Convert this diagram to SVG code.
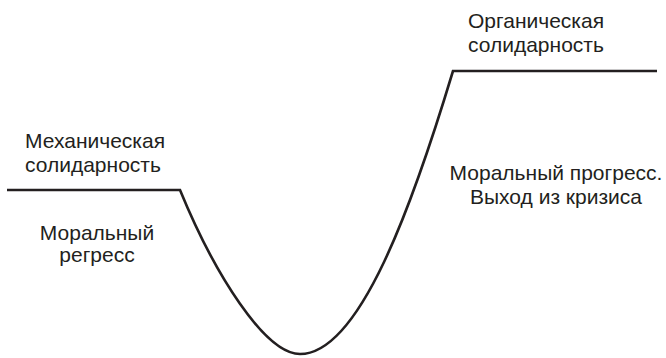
<svg xmlns="http://www.w3.org/2000/svg" width="666" height="358" viewBox="0 0 666 358">
<style>
.lbl{font-family:"Liberation Sans",Arial,sans-serif;font-size:21px;fill:#231f20}
.curve{fill:none;stroke:#231f20;stroke-width:2.6;stroke-linejoin:miter}
</style>
<rect width="666" height="358" fill="#fff"/>
<g id="connectors">
<path class="curve" d="M7,190 L180,190 C214.5,274 265,354 300,354 C360,354 413.4,202.2 453,71 L657,71"/>
</g>
<g id="mechanical">
<text class="lbl" x="25" y="148">Механическая</text>
<text class="lbl" x="25" y="172">солидарность</text>
</g>
<g id="regress">
<text class="lbl" x="97" y="240" text-anchor="middle">Моральный</text>
<text class="lbl" x="97" y="262" text-anchor="middle">регресс</text>
</g>
<g id="organic">
<text class="lbl" x="468" y="28">Органическая</text>
<text class="lbl" x="468" y="52">солидарность</text>
</g>
<g id="progress">
<text class="lbl" x="556" y="180" text-anchor="middle">Моральный прогресс.</text>
<text class="lbl" x="556" y="204" text-anchor="middle">Выход из кризиса</text>
</g>
</svg>
